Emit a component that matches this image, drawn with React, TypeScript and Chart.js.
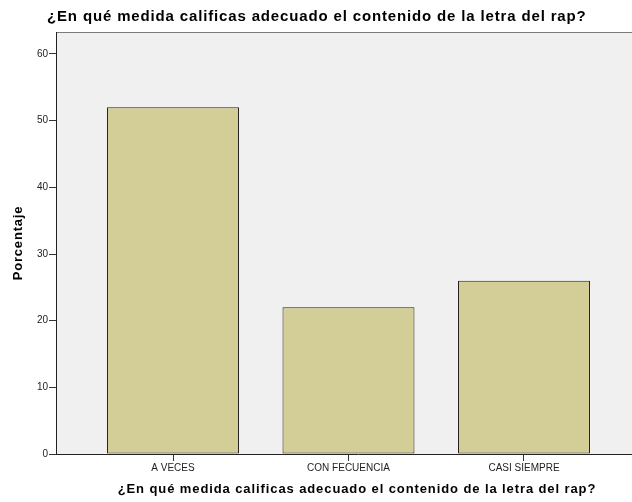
import React, { useEffect, useRef } from "react";
import { Chart, registerables } from "chart.js";

Chart.register(...registerables);

const chartTitle = "¿En qué medida calificas adecuado el contenido de la letra del rap?";
const xAxisTitle = "¿En qué medida calificas adecuado el contenido de la letra del rap?";
const yAxisTitle = "Porcentaje";
const categories = ["A VECES", "CON FECUENCIA", "CASI SIEMPRE"];
const percentages = [52, 22, 26];
const yTicks = [0, 10, 20, 30, 40, 50, 60];

const FONT = "'Liberation Sans', Arial, sans-serif";

const titlesPlugin = {
  id: "spssTitles",
  afterDraw(chart: any) {
    const ctx = chart.ctx;
    const a = chart.chartArea;
    ctx.save();
    ctx.fillStyle = "#000";
    ctx.textBaseline = "middle";
    ctx.font = `bold 15px ${FONT}`;
    (ctx as any).letterSpacing = "0.85px";
    ctx.textAlign = "left";
    ctx.fillText(chartTitle, 47, 17);
    ctx.font = `bold 13px ${FONT}`;
    (ctx as any).letterSpacing = "0.9px";
    ctx.textAlign = "center";
    ctx.fillText(xAxisTitle, 357, 489);
    ctx.translate(18, (a.top + a.bottom) / 2);
    ctx.rotate(-Math.PI / 2);
    ctx.font = `bold 13px ${FONT}`;
    (ctx as any).letterSpacing = "0.8px";
    ctx.fillText(yAxisTitle, 0, 0);
    ctx.restore();
  },
};

const plotBgPlugin = {
  id: "plotBg",
  beforeDraw(chart: any) {
    const ctx = chart.ctx;
    const a = chart.chartArea;
    ctx.save();
    ctx.fillStyle = "#f0f0f0";
    ctx.fillRect(a.left, a.top, a.right - a.left, a.bottom - a.top);
    ctx.strokeStyle = "#7a7a7a";
    ctx.lineWidth = 1;
    ctx.beginPath();
    ctx.moveTo(a.left, a.top + 0.5);
    ctx.lineTo(a.right, a.top + 0.5);
    ctx.stroke();
    ctx.restore();
  },
};

export default function App() {
  const ref = useRef<HTMLCanvasElement | null>(null);
  useEffect(() => {
    if (!ref.current) return;
    const chart = new Chart(ref.current, {
      type: "bar",
      data: {
        datasets: [
          {
            data: percentages.map((v, i) => ({ x: i, y: v })),
            backgroundColor: "#d3ce97",
            borderColor: "#222",
            borderWidth: 1,
            borderSkipped: false,
            barPercentage: 0.752,
            categoryPercentage: 1,
          },
        ],
      },
      options: {
        animation: false,
        responsive: false,
        maintainAspectRatio: false,
        layout: { padding: { top: 32, left: 0, right: 0, bottom: 0 } },
        plugins: {
          legend: { display: false },
          title: { display: false },
          tooltip: { enabled: false },
        },
        scales: {
          x: {
            type: "linear",
            offset: false,
            min: -0.6667,
            max: 2.775,
            afterBuildTicks: (s: any) => {
              s.ticks = categories.map((_, i) => ({ value: i }));
            },
            afterFit: (s: any) => {
              s.height = 48;
            },
            ticks: {
              callback: (v: any) => categories[v as number] ?? "",
              color: "#222",
              font: { family: FONT, size: 10 },
              padding: 1,
              maxRotation: 0,
              autoSkip: false,
            },
            grid: {
              display: true,
              offset: false,
              drawOnChartArea: false,
              drawTicks: true,
              tickLength: 7,
              color: "#333",
            },
            border: { display: true, color: "#222", width: 1 },
          },
          y: {
            min: 0,
            max: 63.3,
            afterBuildTicks: (s: any) => {
              s.ticks = yTicks.map((v) => ({ value: v }));
            },
            afterFit: (s: any) => {
              s.width = 56;
            },
            ticks: {
              color: "#222",
              font: { family: FONT, size: 10 },
              padding: 1,
            },
            grid: {
              display: true,
              drawOnChartArea: false,
              drawTicks: true,
              tickLength: 7,
              color: "#333",
            },
            border: { display: true, color: "#222", width: 1 },
          },
        },
      },
      plugins: [plotBgPlugin, titlesPlugin],
    });
    return () => chart.destroy();
  }, []);
  return (
    <div
      style={{
        position: "fixed",
        left: 0,
        top: 0,
        width: 632,
        height: 502,
        overflow: "hidden",
        background: "#fff",
      }}
    >
      <canvas ref={ref} width={660} height={502} style={{ display: "block" }} />
    </div>
  );
}
